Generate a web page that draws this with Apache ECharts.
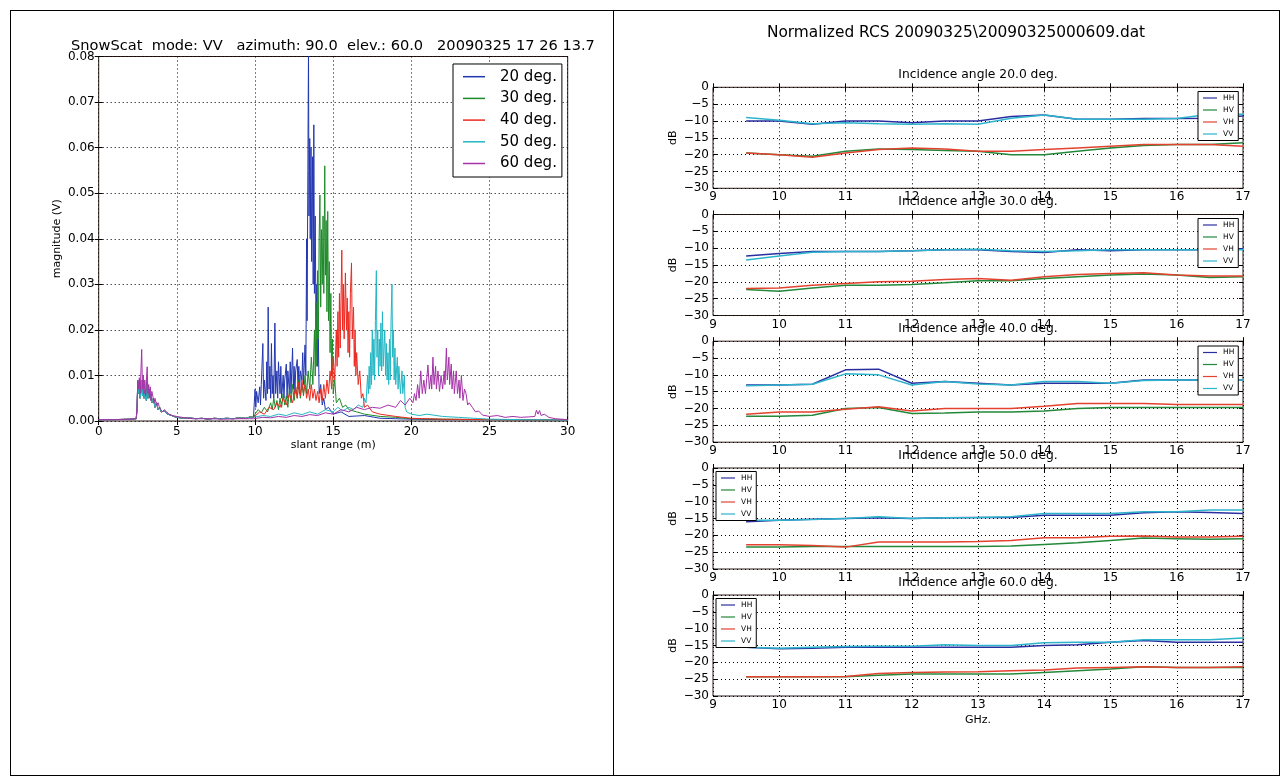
<!DOCTYPE html>
<html>
<head>
<meta charset="utf-8">
<title>SnowScat range profiles and normalized RCS</title>
<script src="https://cdn.jsdelivr.net/npm/echarts@6/dist/echarts.min.js"></script>
<style>
  html, body { margin: 0; padding: 0; background: #fff; }
  #chart { width: 1287px; height: 782px; }
  .frame { position: absolute; border: 1px solid #000; pointer-events: none; box-sizing: border-box; }
</style>
</head>
<body>
<div id="chart"></div>
<div class="frame" style="left:10px;top:10px;width:1270px;height:766px"></div>
<div class="frame" style="left:613px;top:10px;width:1px;height:766px;border-width:0 0 0 1px"></div>
<script>
// ---- left panel: range profiles, [slant range (m), magnitude (mV)] ----
const angles = ['20 deg.', '30 deg.', '40 deg.', '50 deg.', '60 deg.']
const angleColors = ['#2236b0', '#1f8a2a', '#ec2a22', '#22b6c4', '#a532a8']

// antenna / near field part, common to most angles
const nearField = [[0,0.3],[1,0.3],[2,0.4],[2.4,0.5],[2.45,2.5],[2.5,8.5],[2.55,6],[2.6,9],[2.65,5],[2.75,9],[2.8,5.5],[2.85,8],[2.9,5],[3.0,7],[3.05,4.5],[3.1,8.5],[3.15,5],[3.2,7],[3.3,5.5],[3.4,4],[3.5,5],[3.6,3],[3.7,4],[3.8,2.5],[3.9,3],[4.0,2],[4.2,2.2],[4.4,1.5],[4.6,1.3],[4.8,1],[5,0.8],[5.4,0.6],[5.8,0.7],[6.2,0.5],[6.6,0.6],[7,0.4],[7.4,0.6],[7.8,0.5],[8.2,0.6],[8.6,0.5],[9,0.7],[9.4,0.6],[9.7,0.9],[9.9,0.8]]
const nearField60 = [[0,0.3],[1,0.3],[2,0.4],[2.4,0.5],[2.45,3],[2.5,9],[2.55,7],[2.6,9.5],[2.65,6],[2.75,15.7],[2.8,7],[2.85,10],[2.9,6],[2.95,9],[3.0,5.5],[3.1,11.9],[3.15,6],[3.2,8],[3.25,5],[3.3,7.5],[3.35,4.5],[3.4,6.5],[3.5,6.8],[3.55,4],[3.6,5],[3.7,3.5],[3.8,4],[3.9,2.8],[4.0,3],[4.1,2],[4.2,2.5],[4.35,2],[4.5,1.5],[4.7,1.2],[5,1],[5.5,0.7],[6,0.5],[7,0.5],[8,0.4],[9,0.5],[9.9,0.5]]

const profile20 = [[10.0,7],[10.05,3],[10.1,6.5],[10.2,4],[10.3,7.5],[10.35,3.5],[10.4,8],[10.5,17],[10.55,5],[10.6,9],[10.7,4.5],[10.75,13],[10.8,6],[10.84,25],[10.9,7],[10.95,12],[11.0,5],[11.05,17],[11.1,6],[11.15,10],[11.2,5],[11.27,21.5],[11.32,6],[11.4,11],[11.45,5],[11.5,13],[11.6,6],[11.65,12],[11.7,5],[11.8,10],[11.85,5],[11.9,9],[12.0,12.5],[12.05,5],[12.1,11],[12.2,6],[12.25,13],[12.3,6],[12.4,16],[12.45,7],[12.5,12],[12.55,6],[12.6,11],[12.7,13.5],[12.75,7],[12.8,12],[12.85,6],[12.9,11],[13.0,9],[13.05,15],[13.1,8],[13.2,16.7],[13.25,10],[13.3,40],[13.33,22],[13.38,55],[13.42,82],[13.45,45],[13.5,62],[13.53,40],[13.58,60],[13.62,35],[13.68,58],[13.72,30],[13.76,65],[13.8,28],[13.85,45],[13.9,20],[13.95,30],[14.0,12],[14.05,18],[14.1,6],[14.2,8],[14.3,3.5],[14.4,5],[14.5,2.5],[14.7,3],[15,1.5],[15.5,2],[16,1],[17,1.2],[18,0.6],[19,0.5],[20,0.4],[22,0.3],[25,0.3],[30,0.2]]
const profile30 = [[10.0,1.5],[10.2,2.5],[10.4,1.8],[10.6,3],[10.8,2],[11.0,4],[11.1,2.5],[11.2,5],[11.3,3],[11.4,4.5],[11.5,2.5],[11.6,5],[11.7,3],[11.8,6],[11.9,3.5],[12.0,5.5],[12.1,3],[12.2,7],[12.3,4],[12.4,8],[12.5,4.5],[12.6,7.5],[12.7,5],[12.8,9],[12.9,5],[13.0,8],[13.1,5.5],[13.2,10],[13.3,6],[13.4,11],[13.5,7],[13.6,14],[13.7,8],[13.8,20],[13.85,10],[13.9,26],[13.95,12],[14.0,33],[14.05,18],[14.1,40],[14.15,49.6],[14.2,25],[14.25,42],[14.3,30],[14.35,45],[14.4,28],[14.46,56],[14.5,32],[14.55,44],[14.6,24],[14.65,46],[14.7,22],[14.75,35],[14.8,15],[14.85,28],[14.9,10],[14.95,18],[15.0,6],[15.1,9],[15.2,4],[15.4,5],[15.6,3],[15.8,3.5],[16,2.5],[16.5,2],[17,1.5],[18,1],[19,0.8],[20,0.5],[22,0.4],[25,0.3],[30,0.2]]
const profile40 = [[10.0,1],[10.3,2],[10.6,1.5],[10.9,3],[11.2,2.5],[11.4,4],[11.6,3],[11.8,5],[12.0,3.5],[12.2,6],[12.4,4],[12.6,7.5],[12.7,5],[12.8,8.5],[12.9,5.5],[13.0,9],[13.1,6],[13.2,8],[13.3,5],[13.4,7],[13.5,4.5],[13.6,8],[13.7,5],[13.8,7],[13.9,4.5],[14.0,6.5],[14.1,4],[14.2,7],[14.3,4.5],[14.4,8],[14.5,5],[14.6,9],[14.7,6],[14.8,11],[14.9,7],[15.0,14],[15.1,9],[15.2,20],[15.25,12],[15.3,24],[15.35,14],[15.4,28],[15.45,16],[15.55,37.5],[15.6,20],[15.65,30],[15.7,18],[15.78,32.5],[15.85,20],[15.9,27],[15.95,15],[16.0,24],[16.05,14],[16.1,28],[16.17,34.7],[16.22,18],[16.3,25],[16.35,12],[16.4,20],[16.45,10],[16.5,15],[16.6,8],[16.7,11],[16.8,5],[16.9,6],[17.0,3],[17.2,3.5],[17.5,2],[18,1.5],[19,1],[20,0.6],[22,0.4],[25,0.3],[30,0.2]]
const profile50 = [[10.0,0.8],[10.5,1.2],[11,1],[11.5,1.5],[12,1.2],[12.5,1.8],[13,1.4],[13.5,2],[14,1.5],[14.5,2.5],[15,2],[15.3,3],[15.6,2.2],[16,3],[16.3,2.5],[16.6,3.5],[16.9,3],[17.0,5],[17.1,4],[17.2,10],[17.25,6],[17.3,12],[17.35,7],[17.4,15],[17.45,8],[17.5,20],[17.55,10],[17.6,18],[17.65,9],[17.7,22],[17.76,33],[17.8,14],[17.85,20],[17.9,10],[17.95,18],[18.0,12],[18.05,21.5],[18.1,11],[18.15,24],[18.2,12],[18.3,20],[18.35,10],[18.4,17],[18.45,9],[18.5,15],[18.55,8],[18.6,18],[18.65,9],[18.7,22],[18.76,30],[18.8,14],[18.85,20],[18.9,9],[18.95,16],[19.0,8],[19.1,14],[19.15,7],[19.2,12],[19.3,6],[19.4,11],[19.45,6],[19.55,10],[19.6,3],[19.7,2],[20,1.5],[20.5,1.2],[21,1.5],[22,1],[23,0.8],[24,0.6],[25,0.4],[27,0.3],[30,0.2]]
const profile60 = [[10.0,0.6],[10.5,0.8],[11,0.7],[11.5,1],[12,0.8],[12.5,1.2],[13,1],[13.5,1.4],[14,1.2],[14.5,1.8],[15,1.5],[15.5,2.5],[16,2],[16.5,3],[17,2.5],[17.5,3],[18,2.8],[18.5,3.5],[19,3],[19.3,4.5],[19.6,3.5],[19.9,5],[20.1,4],[20.2,6],[20.3,4.5],[20.4,8],[20.5,5],[20.6,11],[20.7,6],[20.8,9],[20.9,6],[21.06,12.3],[21.15,7],[21.25,10],[21.3,7],[21.38,14],[21.45,8],[21.55,12],[21.6,7],[21.7,11],[21.8,6.5],[21.9,10],[22.0,7],[22.1,11],[22.15,8],[22.24,16],[22.3,9],[22.4,14],[22.45,8],[22.55,12.5],[22.6,7],[22.7,11],[22.75,6],[22.87,11],[22.95,6],[23.05,9],[23.1,5],[23.2,10],[23.3,4.5],[23.4,7],[23.5,6],[23.6,3.5],[23.7,4],[23.9,3],[24.1,2],[24.3,2.2],[24.55,1.3],[25,1],[25.5,1.2],[26,0.8],[26.5,1],[27,0.8],[27.5,0.9],[27.9,1],[28.0,2.4],[28.1,1.5],[28.2,2.3],[28.3,1.2],[28.5,1.5],[28.8,0.8],[29.2,0.5],[30,0.3]]

// ---- right panel: normalized RCS (dB) vs frequency (GHz) ----
const freqGHz = [9.5, 10, 10.5, 11, 11.5, 12, 12.5, 13, 13.5, 14, 14.5, 15, 15.5, 16, 16.5, 17]
const pols = ['HH', 'HV', 'VH', 'VV']
const polColors = ['#2a2fa0', '#23883a', '#e3422f', '#2cb4cc']
const incidence = ['20.0', '30.0', '40.0', '50.0', '60.0']

const hh20 = [-10, -10, -11, -10, -10, -10.5, -10, -10, -8.7, -8.2, -9.5, -9.5, -9.3, -9.3, -9.2, -8.5]
const hv20 = [-19.5, -20, -20.5, -19, -18.3, -18.5, -18.8, -19, -20, -20, -19, -18, -17.3, -17, -17, -16.5]
const vh20 = [-19.5, -20, -20.8, -19.5, -18.5, -18, -18.3, -19, -19, -18.5, -18, -17.5, -17, -17, -17, -17.5]
const vv20 = [-9, -9.8, -10.8, -10.5, -10.8, -11, -10.8, -11, -9.2, -8.2, -9.5, -9.5, -9.5, -9.3, -8, -8]

const hh30 = [-12.3, -11.6, -11, -11, -11, -10.8, -10.5, -10.5, -11, -11.3, -10.5, -10.8, -10.5, -10.5, -10.5, -10.2]
const hv30 = [-22.3, -22.8, -21.8, -21, -21, -20.8, -20.3, -19.7, -19.7, -19, -18.5, -18, -17.7, -18, -18.7, -18.5]
const vh30 = [-22, -21.8, -21, -20.5, -20, -19.8, -19.3, -19, -19.5, -18.5, -17.8, -17.5, -17.3, -18, -18.3, -18.3]
const vv30 = [-13.5, -12.3, -11.2, -11, -11, -10.8, -10.5, -10.3, -10.8, -11, -10.8, -10.5, -10.5, -10.5, -10.5, -10.5]

const hh40 = [-13, -13, -12.8, -8.5, -8.3, -12.5, -12, -12.5, -13, -12.5, -12.5, -12.5, -11.5, -11.5, -11.5, -11.5]
const hv40 = [-22.3, -22.3, -22, -20, -19.7, -21.5, -21.3, -21, -21, -20.7, -20, -19.7, -19.7, -19.7, -19.7, -19.7]
const vh40 = [-21.7, -21, -21, -20.2, -19.5, -20.7, -20, -20, -20, -19.3, -18.5, -18.5, -18.5, -18.8, -18.8, -18.8]
const vv40 = [-13.2, -13, -12.8, -9.7, -10, -13, -12, -12.7, -13, -12, -12, -12.5, -11.7, -11.5, -11.5, -11.5]

const hh50 = [-16, -15.5, -15.2, -15, -14.8, -15, -14.8, -14.7, -14.7, -14, -14, -14, -13.3, -13, -13.2, -13.5]
const hv50 = [-23.5, -23.5, -23.3, -23.3, -23.3, -23.3, -23.3, -23.3, -23.2, -22.7, -22.2, -21.5, -20.8, -21, -21.2, -21]
const vh50 = [-22.8, -22.8, -23, -23.5, -22, -22, -22, -21.8, -21.5, -20.7, -20.7, -20.3, -20.2, -20.5, -20.5, -20.3]
const vv50 = [-15.5, -15.5, -15.3, -15, -14.5, -15, -14.8, -14.7, -14.5, -13.5, -13.5, -13.5, -13, -13, -12.5, -12.5]

const hh60 = [-15.5, -16, -15.8, -15.5, -15.5, -15.5, -15.5, -15.5, -15.5, -15, -14.8, -14, -13.5, -14, -14, -14]
const hv60 = [-24.3, -24.3, -24.3, -24.3, -23.8, -23.5, -23.5, -23.5, -23.5, -23, -22.5, -22, -21.3, -21.5, -21.5, -21.5]
const vh60 = [-24.3, -24.3, -24.3, -24.2, -23.3, -23, -22.9, -22.8, -22.5, -22.3, -21.7, -21.5, -21.3, -21.5, -21.5, -21.3]
const vv60 = [-15.5, -15.8, -15.5, -15.3, -15.2, -15.2, -14.8, -15, -15, -14.2, -14, -14, -13.3, -13.3, -13.3, -12.8]

const rcs = [
  [hh20, hv20, vh20, vv20],
  [hh30, hv30, vh30, vv30],
  [hh40, hv40, vh40, vv40],
  [hh50, hv50, vh50, vv50],
  [hh60, hv60, vh60, vv60],
]
const profiles = [
  nearField.concat(profile20),
  nearField.concat(profile30),
  nearField.concat(profile40),
  nearField.concat(profile50),
  nearField60.concat(profile60),
]

const font = 'DejaVu Sans'
const minus = v => String(v).replace('-', '\u2212')

const subTops = [87.3, 214.5, 341.2, 468, 595]
const grids = [{ left: 98.7, top: 56.5, width: 469, height: 364.5 }]
subTops.forEach(t => grids.push({ left: 713, top: t, width: 530, height: 101 }))
grids.forEach(g => Object.assign(g, { show: true, borderColor: '#2a1a16', borderWidth: 1, backgroundColor: '#fff' }))

const xAxes = []
const yAxes = []
const tick = { inside: true, length: 4, lineStyle: { color: '#000' } }
const grid = { show: true, lineStyle: { color: '#000', type: [1, 3], width: 1 } }

function addAxes(gi, x, y) {
  xAxes.push(Object.assign({ gridIndex: gi, type: 'value', position: 'bottom', axisLine: { show: false },
    axisTick: tick, splitLine: grid }, x))
  xAxes.push({ gridIndex: gi, type: 'value', position: 'top', min: x.min, max: x.max, interval: x.interval,
    axisLine: { show: false }, axisTick: tick, axisLabel: { show: false }, splitLine: { show: false } })
  yAxes.push(Object.assign({ gridIndex: gi, type: 'value', position: 'left', axisLine: { show: false },
    axisTick: tick, splitLine: grid }, y))
  yAxes.push({ gridIndex: gi, type: 'value', position: 'right', min: y.min, max: y.max, interval: y.interval,
    axisLine: { show: false }, axisTick: tick, axisLabel: { show: false }, splitLine: { show: false } })
}

addAxes(0,
  { min: 0, max: 30, interval: 5, name: 'slant range (m)', nameLocation: 'middle', nameGap: 19,
    nameTextStyle: { fontFamily: font, fontSize: 11, color: '#000' },
    axisLabel: { fontFamily: font, fontSize: 12, color: '#000', margin: 5 } },
  { min: 0, max: 0.08, interval: 0.01, name: 'magnitude (V)', nameLocation: 'middle', nameGap: 36, nameRotate: 90,
    nameTextStyle: { fontFamily: font, fontSize: 11, color: '#000' },
    axisLabel: { fontFamily: font, fontSize: 12, color: '#000', margin: 4, formatter: v => v.toFixed(2) } })

subTops.forEach((t, i) => {
  const last = i === subTops.length - 1
  addAxes(i + 1,
    { min: 9, max: 17, interval: 1, name: last ? 'GHz.' : '', nameLocation: 'middle', nameGap: 19,
      nameTextStyle: { fontFamily: font, fontSize: 11, color: '#000' },
      axisLabel: { fontFamily: font, fontSize: 12, color: '#000', margin: 3 } },
    { min: -30, max: 0, interval: 5, name: 'dB', nameLocation: 'middle', nameGap: 34, nameRotate: 90,
      nameTextStyle: { fontFamily: font, fontSize: 11, color: '#000' },
      axisLabel: { fontFamily: font, fontSize: 12, color: '#000', margin: 4, formatter: minus } })
})

const series = []
angles.forEach((name, i) => {
  series.push({
    name, type: 'line', xAxisIndex: 0, yAxisIndex: 0, color: angleColors[i],
    data: profiles[i].map(([r, mv]) => [r, mv / 1000]),
    showSymbol: false, symbol: 'none', lineStyle: { width: 1, color: angleColors[i] },
    silent: true, animation: false
  })
})
rcs.forEach((set, s) => {
  set.forEach((vals, p) => {
    series.push({
      name: pols[p], type: 'line', xAxisIndex: 2 * (s + 1), yAxisIndex: 2 * (s + 1), color: polColors[p],
      data: freqGHz.map((f, k) => [f, vals[k]]),
      showSymbol: false, symbol: 'none', lineStyle: { width: 1.5, color: polColors[p] },
      silent: true, animation: false
    })
  })
})

const legendBase = {
  orient: 'vertical', icon: 'rect', selectedMode: false, borderColor: '#000', borderWidth: 1,
  backgroundColor: '#fff', borderRadius: 0
}
const polLegendPos = [[1198, 91.5], [1198, 218.5], [1198, 346], [716, 471.5], [716, 598.5]]
const legends = [Object.assign({}, legendBase, {
  data: angles, left: 453, top: 64, itemWidth: 22, itemHeight: 1.5, itemGap: 5.7, padding: [4.7, 5, 5.5, 10],
  textStyle: { fontFamily: font, fontSize: 15, color: '#000', lineHeight: 16, padding: [0, 0, 0, 10] }
})]
polLegendPos.forEach(([l, t]) => legends.push(Object.assign({}, legendBase, {
  data: pols, left: l, top: t, itemWidth: 14, itemHeight: 1.2, itemGap: 4, padding: [2.5, 4, 2.5, 5],
  textStyle: { fontFamily: font, fontSize: 7.5, color: '#000', lineHeight: 8, padding: [0, 0, 0, 1] }
})))

const texts = [
  { text: 'SnowScat  mode: VV   azimuth: 90.0  elev.: 60.0   20090325 17 26 13.7', x: 333, y: 46, size: 14.6 },
  { text: 'Normalized RCS 20090325\\20090325000609.dat', x: 956, y: 33, size: 15.4 },
]
subTops.forEach((t, i) => texts.push({ text: 'Incidence angle ' + incidence[i] + ' deg.', x: 978, y: t - 12.3, size: 12.3 }))

const chart = echarts.init(document.getElementById('chart'))
chart.setOption({
  animation: false,
  backgroundColor: '#fff',
  grid: grids,
  xAxis: xAxes,
  yAxis: yAxes,
  legend: legends,
  series,
  graphic: texts.map(t => ({
    type: 'text', x: t.x, y: t.y, z: 100,
    style: { text: t.text, font: t.size + 'px "' + font + '"', fill: '#000', textAlign: 'center', textVerticalAlign: 'middle' }
  }))
})
</script>
</body>
</html>
